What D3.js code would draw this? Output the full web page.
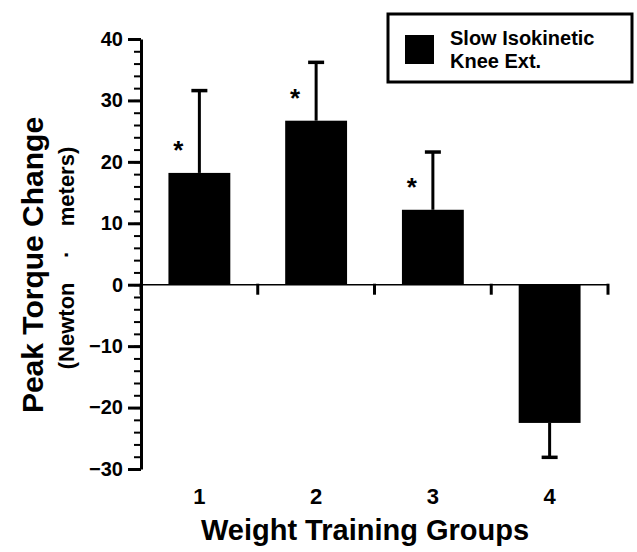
<!DOCTYPE html>
<html>
<head>
<meta charset="utf-8">
<script src="https://cdn.jsdelivr.net/npm/d3@7"></script>
<style>
  body { margin: 0; background: #fff; }
  text { font-family: "Liberation Sans", Arial, Helvetica, sans-serif; font-weight: bold; fill: #000; }
</style>
</head>
<body>
<div id="chart"></div>
<script>
// data
let groups = ["1", "2", "3", "4"];
let torqueChange = [18.2, 26.7, 12.2, -22.5];
let torqueError = [13.4, 9.5, 9.4, 5.6];
let significant = [true, true, true, false];
let yTicks = [-30, -20, -10, 0, 10, 20, 30, 40];
let legendLines = ["Slow Isokinetic", "Knee Ext."];

let svgWidth = 637;
let svgHeight = 552;

let margin = { top: 39, right: 29, bottom: 83, left: 141 };
let width = svgWidth - margin.left - margin.right;
let height = svgHeight - margin.top - margin.bottom;

let svg = d3.select("#chart")
    .append("svg")
    .attr("width", svgWidth)
    .attr("height", svgHeight);

let chartGroup = svg.append("g")
    .attr("transform", `translate(${margin.left}, ${margin.top})`);

let xScale = d3.scaleBand()
    .domain(groups)
    .range([0, width])
    .paddingInner(0.47)
    .paddingOuter(0.235);

let yScale = d3.scaleLinear()
    .domain([-30, 40])
    .range([height, 0]);

let step = xScale.step();

// bars
chartGroup.selectAll("rect.bar")
    .data(groups)
    .enter()
    .append("rect")
    .attr("class", "bar")
    .attr("x", d => xScale(d))
    .attr("width", xScale.bandwidth())
    .attr("y", (d, i) => yScale(Math.max(0, torqueChange[i])))
    .attr("height", (d, i) => Math.abs(yScale(torqueChange[i]) - yScale(0)))
    .attr("fill", "#000");

// one-sided error bars
let errGroup = chartGroup.append("g");
groups.forEach(function (g, i) {
    let cx = xScale(g) + xScale.bandwidth() / 2;
    let v = torqueChange[i];
    let end = v >= 0 ? v + torqueError[i] : v - torqueError[i];
    errGroup.append("line")
        .attr("x1", cx).attr("x2", cx)
        .attr("y1", yScale(v)).attr("y2", yScale(end))
        .attr("stroke", "#000").attr("stroke-width", 3);
    errGroup.append("line")
        .attr("x1", cx - 8).attr("x2", cx + 8)
        .attr("y1", yScale(end)).attr("y2", yScale(end))
        .attr("stroke", "#000").attr("stroke-width", 3.5);
});

// asterisks
chartGroup.selectAll("text.star")
    .data(groups.filter((g, i) => significant[i]))
    .enter()
    .append("text")
    .attr("class", "star")
    .attr("x", d => xScale(d) + xScale.bandwidth() / 2 - 21)
    .attr("y", d => yScale(torqueChange[groups.indexOf(d)]) - 14)
    .attr("text-anchor", "middle")
    .style("font-size", "26px")
    .text("*");

// zero line with group separator ticks
chartGroup.append("line")
    .attr("x1", 0).attr("x2", width)
    .attr("y1", yScale(0)).attr("y2", yScale(0))
    .attr("stroke", "#000").attr("stroke-width", 1.5);

let sepTicks = [0].concat(groups.map(g => xScale(g) + xScale.bandwidth() / 2 + step / 2));
chartGroup.selectAll("line.sep")
    .data(sepTicks)
    .enter()
    .append("line")
    .attr("class", "sep")
    .attr("x1", d => d).attr("x2", d => d)
    .attr("y1", yScale(0) - 1).attr("y2", yScale(0) + 10)
    .attr("stroke", "#000").attr("stroke-width", 3);

// y axis: minor then major
chartGroup.append("g")
    .call(d3.axisLeft(yScale).tickValues(d3.range(-30, 41, 2)).tickSize(7).tickFormat(""))
    .call(g => g.select(".domain").remove())
    .call(g => g.selectAll(".tick line").attr("stroke-width", 2));

let leftAxis = d3.axisLeft(yScale)
    .tickValues(yTicks)
    .tickSize(13)
    .tickPadding(5)
    .tickSizeOuter(0);

chartGroup.append("g")
    .call(leftAxis)
    .call(g => g.select(".domain").attr("stroke-width", 3))
    .call(g => g.selectAll(".tick line").attr("stroke-width", 3))
    .call(g => g.selectAll(".tick text").style("font-size", "20px").attr("font-family", null));

// x group labels
chartGroup.selectAll("text.grp")
    .data(groups)
    .enter()
    .append("text")
    .attr("class", "grp")
    .attr("x", d => xScale(d) + xScale.bandwidth() / 2)
    .attr("y", height + 35)
    .attr("text-anchor", "middle")
    .style("font-size", "22px")
    .text(d => d);

// axis titles
svg.append("text")
    .attr("x", 365)
    .attr("y", 540)
    .attr("text-anchor", "middle")
    .style("font-size", "29px")
    .text("Weight Training Groups");

svg.append("text")
    .attr("transform", "translate(43, 265) rotate(-90)")
    .attr("text-anchor", "middle")
    .style("font-size", "30px")
    .text("Peak Torque Change");

svg.append("text")
    .attr("transform", "translate(74, 258) rotate(-90)")
    .attr("text-anchor", "middle")
    .style("font-size", "22px")
    .style("white-space", "pre")
    .text("(Newton    \u00b7    meters)");

// legend
let legend = svg.append("g");
legend.append("rect")
    .attr("x", 388).attr("y", 14)
    .attr("width", 244).attr("height", 68)
    .attr("fill", "none")
    .attr("stroke", "#000")
    .attr("stroke-width", 3);
legend.append("rect")
    .attr("x", 405).attr("y", 35)
    .attr("width", 29).attr("height", 29)
    .attr("fill", "#000");
legend.selectAll("text")
    .data(legendLines)
    .enter()
    .append("text")
    .attr("x", 450)
    .attr("y", (d, i) => 45 + i * 23)
    .style("font-size", "20px")
    .text(d => d);
</script>
</body>
</html>
